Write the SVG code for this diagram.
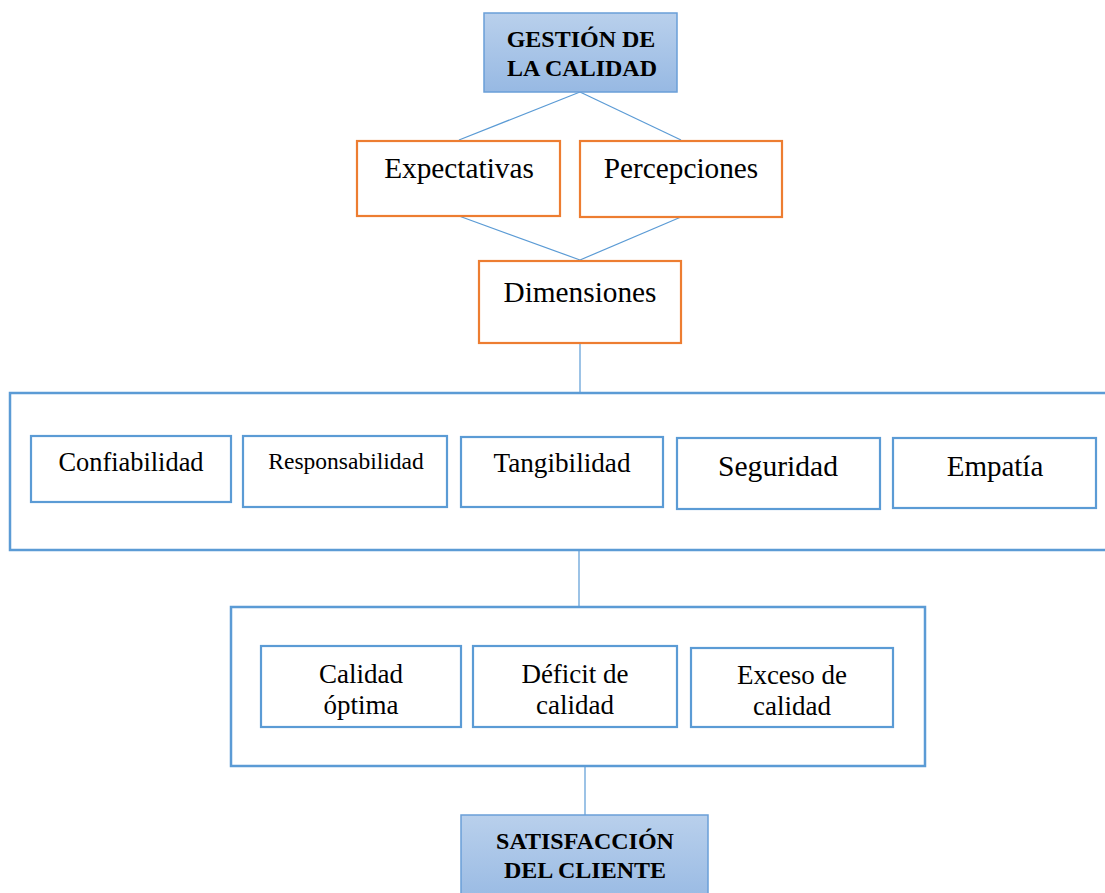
<svg xmlns="http://www.w3.org/2000/svg" width="1105" height="893" viewBox="0 0 1105 893">
<defs>
<linearGradient id="hdr" x1="0" y1="0" x2="0" y2="1">
<stop offset="0" stop-color="#b9d0ec"/>
<stop offset="1" stop-color="#97b9e3"/>
</linearGradient>
<style>
.hdr{fill:url(#hdr);stroke:#6a9fd8;stroke-width:1.5}
.org{fill:#fff;stroke:#ed7d31;stroke-width:2.2}
.blu{fill:#fff;stroke:#5b9bd5;stroke-width:2.2}
.grp{fill:none;stroke:#5b9bd5;stroke-width:2.5}
.con{stroke:#5b9bd5;stroke-width:1.2;fill:none}
text{font-family:"Liberation Serif","Times New Roman",serif;fill:#000;text-anchor:middle}
.b{font-weight:bold;font-size:24px}
.l{font-size:29.3px}
.m{font-size:27px}
</style>
</defs>
<rect width="1105" height="893" fill="#fff"/>
<g id="connectors">
<line class="con" x1="580" y1="92" x2="459" y2="140"/>
<line class="con" x1="580" y1="92" x2="681" y2="140"/>
<line class="con" x1="459" y1="216" x2="580" y2="260"/>
<line class="con" x1="681" y1="217" x2="580" y2="260"/>
<line class="con" x1="580" y1="343" x2="580" y2="393"/>
<line class="con" x1="579" y1="550" x2="579" y2="607"/>
<line class="con" x1="585" y1="766" x2="585" y2="815"/>
</g>
<g id="gestion">
<rect class="hdr" x="484" y="13" width="193" height="79"/>
<text class="b" x="581" y="47">GESTIÓN DE</text>
<text class="b" x="582" y="76">LA CALIDAD</text>
</g>
<g id="expectativas">
<rect class="org" x="357" y="141" width="203" height="75"/>
<text class="l" x="459" y="178">Expectativas</text>
</g>
<g id="percepciones">
<rect class="org" x="580" y="141" width="202" height="76"/>
<text class="l" x="681" y="178">Percepciones</text>
</g>
<g id="dimensiones">
<rect class="org" x="479" y="261" width="202" height="82"/>
<text class="l" x="580" y="302">Dimensiones</text>
</g>
<g id="grupo-dimensiones">
<rect class="grp" x="10" y="393" width="1110" height="157"/>
</g>
<g id="confiabilidad">
<rect class="blu" x="31" y="436" width="200" height="66"/>
<text x="131" y="471" font-size="26.4">Confiabilidad</text>
</g>
<g id="responsabilidad">
<rect class="blu" x="243" y="436" width="204" height="71"/>
<text x="346" y="469" font-size="23.5">Responsabilidad</text>
</g>
<g id="tangibilidad">
<rect class="blu" x="461" y="437" width="202" height="70"/>
<text x="562" y="472" font-size="27.2">Tangibilidad</text>
</g>
<g id="seguridad">
<rect class="blu" x="677" y="438" width="203" height="71"/>
<text x="778" y="476" font-size="29.6">Seguridad</text>
</g>
<g id="empatia">
<rect class="blu" x="893" y="438" width="203" height="70"/>
<text x="995" y="476" font-size="29">Empatía</text>
</g>
<g id="grupo-calidad">
<rect class="grp" x="231" y="607" width="694" height="159"/>
</g>
<g id="calidad-optima">
<rect class="blu" x="261" y="646" width="200" height="81"/>
<text class="m" x="361" y="683">Calidad</text>
<text class="m" x="361" y="714">óptima</text>
</g>
<g id="deficit">
<rect class="blu" x="473" y="646" width="204" height="81"/>
<text class="m" x="575" y="683">Déficit de</text>
<text class="m" x="575" y="714">calidad</text>
</g>
<g id="exceso">
<rect class="blu" x="691" y="648" width="202" height="79"/>
<text class="m" x="792" y="684">Exceso de</text>
<text class="m" x="792" y="715">calidad</text>
</g>
<g id="satisfaccion">
<rect class="hdr" x="461" y="815" width="247" height="90"/>
<text class="b" x="585" y="849">SATISFACCIÓN</text>
<text class="b" x="585" y="878">DEL CLIENTE</text>
</g>
</svg>
